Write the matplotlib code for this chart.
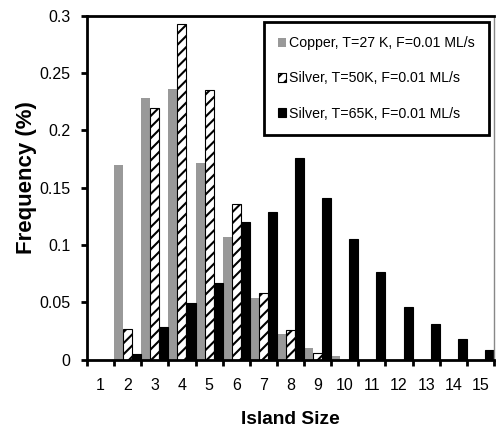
import numpy as np
import matplotlib
matplotlib.use("Agg")
from matplotlib import pyplot as plt

plt.rcParams["font.family"] = ["Liberation Sans", "DejaVu Sans"]
plt.rcParams["hatch.linewidth"] = 1.5

# island sizes and frequencies
sizes = np.arange(1, 16)
copper_27k = [0, 0.170, 0.228, 0.236, 0.171, 0.107, 0.054, 0.022, 0.010, 0.003, 0, 0, 0, 0, 0]
silver_50k = [0, 0.027, 0.219, 0.293, 0.235, 0.136, 0.058, 0.026, 0.006, 0, 0, 0, 0, 0, 0]
silver_65k = [0, 0.005, 0.028, 0.049, 0.067, 0.120, 0.129, 0.176, 0.141, 0.105, 0.076, 0.046, 0.031, 0.018, 0.008]
labels = [
    "Copper, T=27 K, F=0.01 ML/s",
    "Silver, T=50K, F=0.01 ML/s",
    "Silver, T=65K, F=0.01 ML/s",
]

fig = plt.figure(figsize=(4.96, 4.28), dpi=100)
ax = fig.add_axes([87 / 496, 1 - 359.5 / 428, 407 / 496, 344 / 428])

w = 1 / 3
kw_all = {"width": w}
ax.bar(sizes - w, copper_27k, color="#999999", lw=0, label=labels[0], **kw_all)
ax.bar(sizes, silver_50k, color="white", edgecolor="black", hatch="///", lw=0.8,
       label=labels[1], **kw_all)
ax.bar(sizes + w, silver_65k, color="black", edgecolor="black", lw=0.8,
       label=labels[2], **kw_all)

# limits and ticks
ax.set_xlim(0.5, 15.5)
ax.set_ylim(0, 0.3)
ax.set_xticks(sizes)
ax.set_xticklabels([str(s) for s in sizes])
ax.set_xticks(np.arange(0.5, 15.6, 1), minor=True)
ax.tick_params(axis="x", which="major", length=0, pad=13, labelsize=11.5)
ax.tick_params(axis="x", which="minor", length=4, width=2, direction="out")
ax.set_yticks(np.arange(0, 0.31, 0.05))
ax.set_yticklabels(["0", "0.05", "0.1", "0.15", "0.2", "0.25", "0.3"])
ax.tick_params(axis="y", length=4, width=2, direction="out", pad=8, labelsize=11.5)

for side in ["left", "bottom", "top", "right"]:
    ax.spines[side].set_visible(True)
    ax.spines[side].set_color("black")
    ax.spines[side].set_linewidth(2)
    ax.spines[side].set_zorder(5)
ax.spines["right"].set_linewidth(1)
ax.spines["right"].set_color("#888888")

# labels
ax.set_xlabel("Island Size", fontsize=13.8, fontweight="bold", labelpad=13)
ax.set_ylabel("Frequency (%)", fontsize=16, fontweight="bold")
ax.yaxis.set_label_coords(-0.122, 0.53)

leg = ax.legend(loc="upper right", bbox_to_anchor=(0.988, 0.981), fontsize=10.2,
                fancybox=False, framealpha=1, edgecolor="black",
                handlelength=0.6, handleheight=0.6, handletextpad=0.2,
                labelspacing=1.5, borderpad=1.0, borderaxespad=0)
leg.get_frame().set_linewidth(2)

fig.savefig("out.png", dpi=100)
